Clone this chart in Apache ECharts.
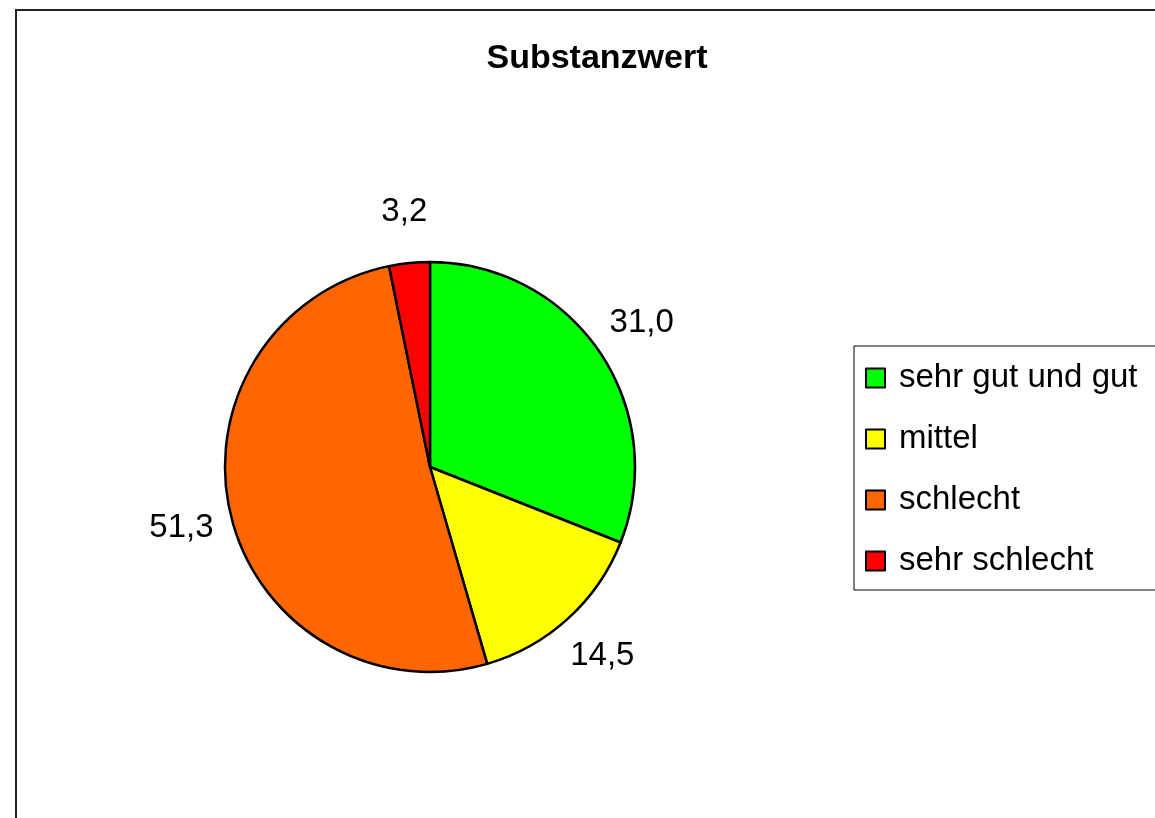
<!DOCTYPE html>
<html>
<head>
<meta charset="utf-8">
<title>Substanzwert</title>
<script src="https://cdn.jsdelivr.net/npm/echarts@6/dist/echarts.min.js"></script>
<style>
  html, body { margin: 0; padding: 0; background: #fff; }
  #chart { width: 1155px; height: 818px; }
</style>
</head>
<body>
<div id="chart"></div>
<script>
const categories = ['sehr gut und gut', 'mittel', 'schlecht', 'sehr schlecht'];
const values = [31.0, 14.5, 51.3, 3.2];
const colors = ['#00ff00', '#ffff00', '#ff6600', '#ff0000'];

document.addEventListener('DOMContentLoaded', function() {
    const chart = echarts.init(document.getElementById('chart'));
    const font = "'Liberation Sans', Arial, sans-serif";

    const pieData = categories.map(function(name, i) {
        return { name: name, value: values[i], itemStyle: { color: colors[i] } };
    });

    const option = {
        animation: false,
        backgroundColor: '#fff',
        title: {
            text: 'Substanzwert',
            left: 597,
            top: 42,
            padding: 0,
            textAlign: 'center',
            textStyle: {
                fontFamily: font,
                fontSize: 34,
                fontWeight: 'bold',
                color: '#000'
            }
        },
        legend: {
            orient: 'vertical',
            left: 854,
            top: 346,
            data: categories,
            icon: 'rect',
            itemWidth: 19,
            itemHeight: 19,
            itemGap: 27,
            padding: [15, 120, 12, 11],
            borderColor: '#000',
            borderWidth: 1,
            borderRadius: 0,
            backgroundColor: '#fff',
            selectedMode: false,
            itemStyle: {
                borderColor: '#000',
                borderWidth: 2
            },
            textStyle: {
                fontFamily: font,
                fontSize: 33,
                lineHeight: 34,
                color: '#000',
                padding: [0, 0, 0, 9]
            }
        },
        graphic: [{
            type: 'rect',
            shape: { x: 16, y: 10, width: 1300, height: 1000 },
            style: { fill: 'none', stroke: '#222', lineWidth: 2 },
            silent: true,
            z: 100
        }],
        series: [
            {
                name: 'Substanzwert',
                type: 'pie',
                center: [430, 467],
                radius: [0, 205],
                startAngle: 90,
                clockwise: true,
                silent: true,
                itemStyle: {
                    borderColor: '#000',
                    borderWidth: 2.5
                },
                label: { show: false },
                labelLine: { show: false },
                emphasis: { disabled: true },
                data: pieData
            },
            {
                // invisible ring used only to place the value labels around the pie
                name: 'labels',
                type: 'pie',
                center: [430, 467],
                radius: [0, 506],
                startAngle: 90,
                clockwise: true,
                silent: true,
                z: 3,
                itemStyle: {
                    color: 'rgba(0,0,0,0)',
                    borderWidth: 0
                },
                label: {
                    show: true,
                    position: 'inside',
                    fontFamily: font,
                    fontSize: 33,
                    color: '#000',
                    textBorderWidth: 0,
                    formatter: function(p) {
                        return p.value.toFixed(1).replace('.', ',');
                    }
                },
                labelLine: { show: false },
                emphasis: { disabled: true },
                data: categories.map(function(name, i) {
                    return { name: name, value: values[i] };
                })
            }
        ]
    };
    chart.setOption(option);

    window.addEventListener('resize', function() {
        chart.resize();
    });
});
</script>
</body>
</html>
